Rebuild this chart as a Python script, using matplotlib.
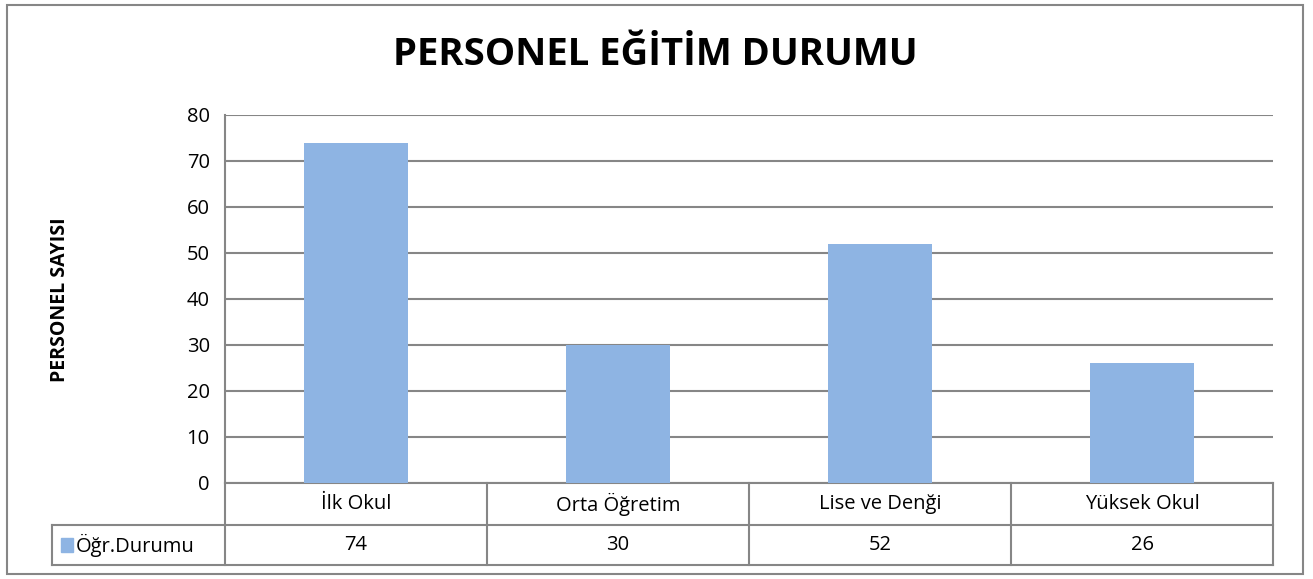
import matplotlib.pyplot as plt
import matplotlib.transforms as mtransforms
from matplotlib.patches import Rectangle
from matplotlib.lines import Line2D

plt.rcParams['font.family'] = ['Open Sans', 'DejaVu Sans']

kategoriler = ["İlk Okul", "Orta Öğretim", "Lise ve Denği", "Yüksek Okul"]
degerler = [74, 30, 52, 26]
seri_adi = "Öğr.Durumu"
y_ticks = [0, 10, 20, 30, 40, 50, 60, 70, 80]

W, H = 1313, 579
fig = plt.figure(figsize=(W / 100, H / 100), dpi=100)

gri = "#868686"
mavi = "#8EB4E3"
fs = 14.5

# plot area in pixels
x0, x1, ytop, ybot = 225, 1273, 115, 483
ax = fig.add_axes([x0 / W, 1 - ybot / H, (x1 - x0) / W, (ybot - ytop) / H])

x = list(range(len(kategoriler)))
ax.bar(x, degerler, width=0.4, color=mavi, zorder=3)
ax.set_xlim(-0.5, len(kategoriler) - 0.5)
ax.set_ylim(0, 80)
ax.set_yticks(y_ticks)
ax.yaxis.grid(True, color=gri, linewidth=1.5, zorder=0)
ax.tick_params(axis="y", length=0, pad=11, labelsize=fs)
ax.set_xticks([])
for s in ["top", "right", "bottom"]:
    ax.spines[s].set_visible(False)
ax.spines["left"].set_color(gri)
ax.spines["left"].set_linewidth(1.5)

# data table below the plot
trans = mtransforms.blended_transform_factory(ax.transData, ax.transAxes)
ph = ybot - ytop
r1 = -42 / ph
r2 = -82 / ph
sol = (52 - x0) / (x1 - x0)
lw = 1.5

def cizgi(xs, ys, tr):
    ax.add_line(Line2D(xs, ys, transform=tr, color=gri, linewidth=lw, clip_on=False))

cizgi([0, 1], [0, 0], ax.transAxes)
cizgi([sol, 1], [r1, r1], ax.transAxes)
cizgi([sol, 1], [r2, r2], ax.transAxes)
cizgi([sol, sol], [r1, r2], ax.transAxes)
for i in range(len(kategoriler) + 1):
    cizgi([i - 0.5, i - 0.5], [0, r2], trans)

for i, (k, v) in enumerate(zip(kategoriler, degerler)):
    ax.text(i, r1 / 2, k, transform=trans, ha="center", va="center", fontsize=fs)
    ax.text(i, (r1 + r2) / 2, str(v), transform=trans, ha="center", va="center", fontsize=fs)

# legend key in table
ax.add_patch(Rectangle((sol + 0.009, (r1 + r2) / 2 - 0.018), 0.011, 0.036,
                       transform=ax.transAxes, color=mavi, clip_on=False))
ax.text(sol + 0.023, (r1 + r2) / 2, seri_adi, transform=ax.transAxes,
        ha="left", va="center", fontsize=fs)

fig.text(655 / W, 1 - 55 / H, "PERSONEL EĞİTİM DURUMU", ha="center", va="center",
         fontsize=27.5, fontweight="bold")
fig.text(60 / W, 1 - 300 / H, "PERSONEL SAYISI", ha="center", va="center",
         rotation=90, fontsize=14, fontweight="bold")

# chart border
fig.add_artist(Rectangle((7 / W, 1 - 574 / H), (1303 - 7) / W, (574 - 5) / H,
                         transform=fig.transFigure, fill=False, edgecolor=gri, linewidth=1.5))

fig.savefig("out.png", dpi=100)
